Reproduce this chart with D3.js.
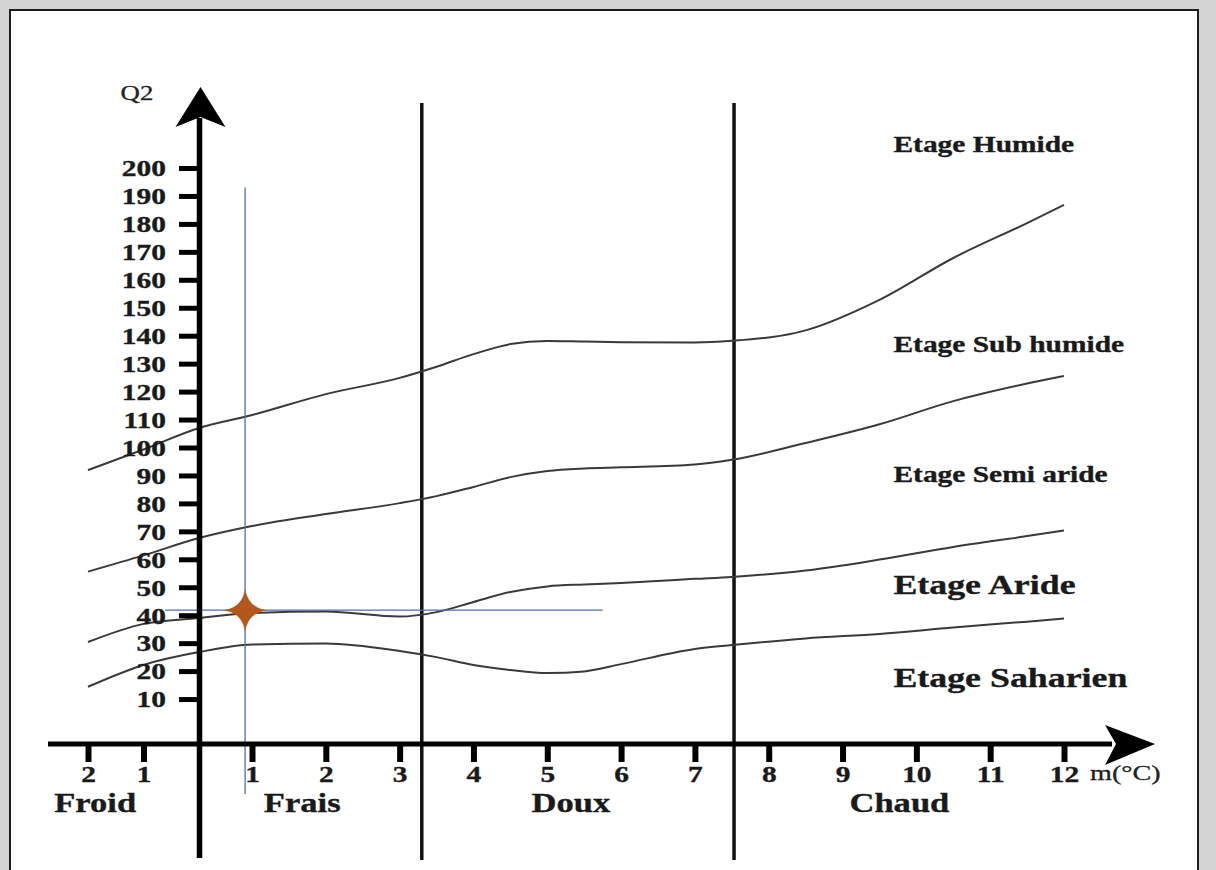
<!DOCTYPE html>
<html><head><meta charset="utf-8">
<script src="https://cdn.jsdelivr.net/npm/d3@7"></script>
<style>body{margin:0;background:#fff}svg{display:block}</style>
</head><body>
<svg id="chart" width="1216" height="870"></svg>
<script>
// ---------- data ----------
const yTicks = [10,20,30,40,50,60,70,80,90,100,110,120,130,140,150,160,170,180,190,200];
const xTicks = [-2,-1,1,2,3,4,5,6,7,8,9,10,11,12];
const zoneBounds = [3.3, 7.53];
const zoneNames = ["Froid","Frais","Doux","Chaud"];
const zoneLabelM = [-1.87, 1.68, 5.32, 9.77];
const etageNames = ["Etage Humide","Etage Sub humide","Etage Semi aride","Etage Aride","Etage Saharien"];
const etageLabelQ2 = [205.7, 134.2, 87.7, 47.6, 14.3];
const etageLabelM = 9.69;
const etageSizes = [23, 23, 23, 28, 28];

// boundary curves sampled at common m values
const curveM = [-2,-1,0,1,2,3,3.5,4,4.5,5,5.5,6,7,7.5,8.5,9.5,10.5,11.5,12];
const humideQ2   = [91.9,99.3,107.0,111.6,119.1,124.9,128.9,133.4,137.0,138.1,137.9,137.7,137.6,138.2,141.9,152.8,167.8,180.3,186.8];
const subHumQ2   = [55.6,61.4,67.6,71.9,76.2,80.1,82.6,85.9,89.4,91.6,92.5,92.9,93.9,95.6,101.6,108.3,116.6,122.9,125.6];
const semiAridQ2 = [30.4,36.9,39.0,40.8,41.3,39.5,41.1,44.7,48.3,50.3,51.0,51.5,53.0,53.7,56.0,59.9,64.4,68.3,70.3];
const arideQ2    = [14.4,22.2,26.8,29.5,29.9,27.2,25.0,22.2,20.4,19.3,19.9,22.5,27.9,29.3,31.7,33.3,35.6,37.7,38.8];

// station point and crosshair extents
const stationM = 0.87, stationQ2 = 41.8;
const crossQ2Range = [-24, 193];
const crossMRange = [-0.61, 5.75];

// ---------- layout ----------
const W = 1216, H = 870;
const SX = 1.28;
const serif = '"Liberation Serif","Times New Roman",serif';
const xAxisY = 744;
const ink = "#1a1a1a";

const svg = d3.select("#chart");

// frame
svg.append("rect").attr("width", W).attr("height", H).attr("fill", "#d4d4d4");
svg.append("rect").attr("x", 10).attr("y", 10).attr("width", 1188).attr("height", 880)
  .attr("fill", "#fff").attr("stroke", "#1c1c1c").attr("stroke-width", 2);

const x = d3.scaleLinear().domain([-2, 0, 1, 12]).range([88, 199, 252, 1064]);
const y = d3.scaleLinear().domain([0, 200]).range([727, 168]);

function stretch(sel, tx, ty) {
  sel.attr("transform", (d, i) => `translate(${typeof tx === "function" ? tx(d, i) : tx},${typeof ty === "function" ? ty(d, i) : ty}) scale(${SX},1)`);
}
function boldText(sel, size) {
  sel.attr("font-family", serif).attr("font-weight", "bold").attr("font-size", size)
    .attr("fill", ink).attr("stroke", ink).attr("stroke-width", 0.35);
}

// zone boundary lines
svg.append("g").selectAll("line").data(zoneBounds).join("line")
  .attr("x1", d => x(d)).attr("x2", d => x(d))
  .attr("y1", 103).attr("y2", 860)
  .attr("stroke", "#111").attr("stroke-width", 3.5);

// boundary curves
const line = d3.line().x(d => x(d[0])).y(d => y(d[1])).curve(d3.curveMonotoneX);
[humideQ2, subHumQ2, semiAridQ2, arideQ2].forEach(vals => {
  svg.append("path").datum(curveM.map((m, i) => [m, vals[i]]))
    .attr("d", line).attr("fill", "none")
    .attr("stroke", "#3a3a3a").attr("stroke-width", 2);
});

// crosshair
svg.append("line")
  .attr("x1", x(stationM)).attr("x2", x(stationM))
  .attr("y1", y(crossQ2Range[1])).attr("y2", y(crossQ2Range[0]))
  .attr("stroke", "#4e6fa9").attr("stroke-width", 1.3);
svg.append("line")
  .attr("x1", x(crossMRange[0])).attr("x2", x(crossMRange[1]))
  .attr("y1", y(stationQ2)).attr("y2", y(stationQ2))
  .attr("stroke", "#4e6fa9").attr("stroke-width", 1.3);

// y axis
const yAxis = d3.axisLeft(y).tickValues(yTicks).tickSize(20).tickFormat(d3.format("d"));
const gy = svg.append("g").attr("transform", `translate(${x(0)},0)`).call(yAxis);
gy.select(".domain").remove();
gy.selectAll(".tick line").attr("stroke", "#000").attr("stroke-width", 5);
gy.selectAll(".tick text")
  .attr("x", null).attr("dy", "0.34em")
  .attr("text-anchor", "end")
  .call(boldText, 23)
  .call(stretch, -33, 0);

// y axis shaft + arrow
svg.append("line").attr("x1", x(0) + 0.5).attr("x2", x(0) + 0.5).attr("y1", 858).attr("y2", 118)
  .attr("stroke", "#000").attr("stroke-width", 5.5);
{
  const cx = x(0) + 1.5;
  svg.append("path")
    .attr("d", `M${cx},87 L${cx + 25},127 L${cx},117 L${cx - 25},127 Z`)
    .attr("fill", "#000");
}

// x axis
const xAxis = d3.axisBottom(x).tickValues(xTicks).tickSize(18).tickFormat(d => Math.abs(d));
const gx = svg.append("g").attr("transform", `translate(0,${xAxisY})`).call(xAxis);
gx.select(".domain").remove();
gx.selectAll(".tick line").attr("stroke", "#000").attr("stroke-width", 6);
gx.selectAll(".tick text")
  .attr("y", null).attr("dy", 0)
  .call(boldText, 23)
  .call(stretch, 0, 38);

svg.append("line").attr("x1", 48).attr("x2", 1112).attr("y1", xAxisY).attr("y2", xAxisY)
  .attr("stroke", "#000").attr("stroke-width", 5);
svg.append("path")
  .attr("d", `M1155,${xAxisY} L1105,${xAxisY - 19} L1116,${xAxisY} L1105,${xAxisY + 21} Z`)
  .attr("fill", "#000");

// axis titles
svg.append("text").text("Q2")
  .attr("font-family", serif).attr("font-size", 21).attr("fill", "#222")
  .attr("stroke", "#222").attr("stroke-width", 0.3).attr("text-anchor", "middle")
  .call(stretch, 137, 100);
svg.append("text").text("m(°C)")
  .attr("font-family", serif).attr("font-size", 22).attr("fill", "#222")
  .attr("stroke", "#222").attr("stroke-width", 0.3)
  .call(stretch, x(12) + 26, xAxisY + 36);

// zone labels
svg.append("g").selectAll("text").data(zoneNames).join("text")
  .text(d => d)
  .attr("text-anchor", "middle")
  .call(boldText, 27)
  .call(stretch, (d, i) => x(zoneLabelM[i]), 812);

// etage labels
svg.append("g").selectAll("text").data(etageNames).join("text")
  .text(d => d)
  .call(boldText, 23)
  .attr("font-size", (d, i) => etageSizes[i])
  .call(stretch, x(etageLabelM), (d, i) => y(etageLabelQ2[i]));

// station star
{
  const cx = x(stationM), cy = y(stationQ2), R = 22, c = 2.5;
  const p = d3.path();
  p.moveTo(cx, cy - R);
  p.quadraticCurveTo(cx + c, cy - c, cx + R, cy);
  p.quadraticCurveTo(cx + c, cy + c, cx, cy + R);
  p.quadraticCurveTo(cx - c, cy + c, cx - R, cy);
  p.quadraticCurveTo(cx - c, cy - c, cx, cy - R);
  p.closePath();
  svg.append("path").attr("d", p.toString()).attr("fill", "#b4571c");
}
</script>
</body></html>
